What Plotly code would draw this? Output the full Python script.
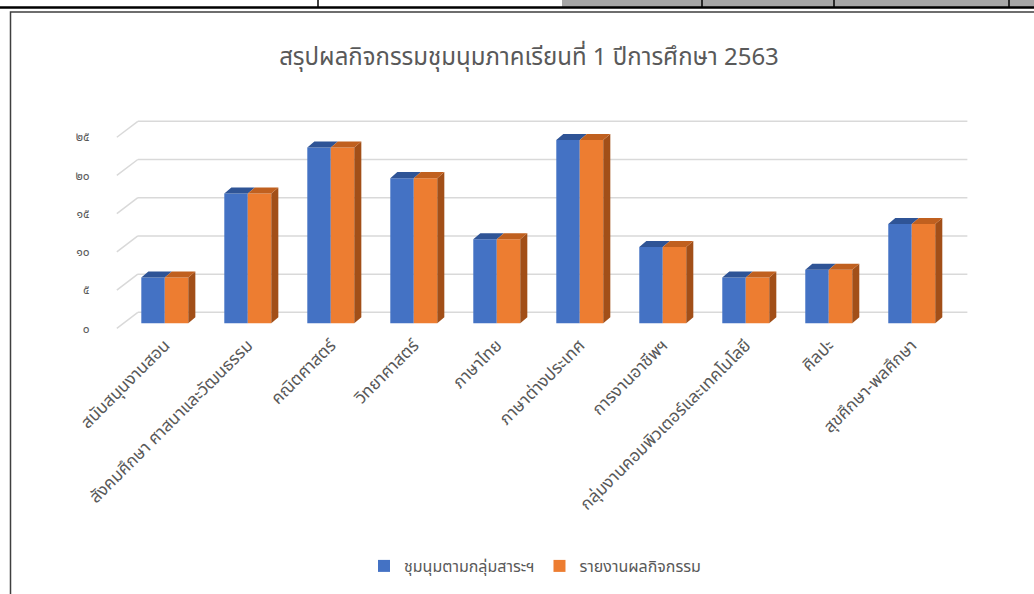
import plotly.graph_objects as go

# data
subjects = ["สนับสนุนงานสอน", "สังคมศึกษา ศาสนาและวัฒนธรรม", "คณิตศาสตร์", "วิทยาศาสตร์",
            "ภาษาไทย", "ภาษาต่างประเทศ", "การงานอาชีพฯ", "กลุ่มงานคอมพิวเตอร์และเทคโนโลยี",
            "ศิลปะ", "สุขศึกษา-พลศึกษา"]
clubs = [6, 17, 23, 19, 11, 24, 10, 6, 7, 13]
reports = [6, 17, 23, 19, 11, 24, 10, 6, 7, 13]
series_names = ["ชุมนุมตามกลุ่มสาระฯ", "รายงานผลกิจกรรม"]
tick_vals = [0, 5, 10, 15, 20, 25]
tick_text = ["๐", "๕", "๑๐", "๑๕", "๒๐", "๒๕"]

W, H = 1034, 594
# plot area in page pixels: x 115..974, y 117..331
L, R, T, B = 115, 60, 117, 263
PW, PH = W - L - R, H - T - B

FONT = "Tahoma, Leelawadee UI, Noto Sans Thai, sans-serif"
GRAY = "#595959"
BAR_W = 0.283
DX, DY = 0.085, 0.79          # bar depth (top / side faces)
BACK_DY, FRONT_DY = 1.44, 0.65  # back wall / front plane offsets
X_BACK0, X_FRONT0, X_END = -0.325, -0.578, 9.67

x = list(range(len(subjects)))
fig = go.Figure()


def top_faces(vals, off):
    px, py = [], []
    for i, v in zip(x, vals):
        x0, x1 = i + off, i + off + BAR_W
        px += [x0, x1, x1 + DX, x0 + DX, x0, None]
        py += [v, v, v + DY, v + DY, v, None]
    return px, py


def side_faces(vals, off):
    px, py = [], []
    for i, v in zip(x, vals):
        x1 = i + off + BAR_W
        px += [x1, x1 + DX, x1 + DX, x1, x1, None]
        py += [0, DY, v + DY, v, 0, None]
    return px, py


for vals, name, off, c_front, c_top, c_side in [
    (clubs, series_names[0], -BAR_W, "#4472C4", "#2F5496", None),
    (reports, series_names[1], 0.0, "#ED7D31", "#C0601F", "#A24F18"),
]:
    fig.add_trace(go.Bar(x=x, y=vals, name=name, width=BAR_W, offset=off,
                         marker=dict(color=c_front, line=dict(width=0))))
    if c_side:
        sx, sy = side_faces(vals, off)
        fig.add_trace(go.Scatter(x=sx, y=sy, mode="lines", fill="toself", fillcolor=c_side,
                                 line=dict(width=0, color=c_side), hoverinfo="skip", showlegend=False))
    tx, ty = top_faces(vals, off)
    fig.add_trace(go.Scatter(x=tx, y=ty, mode="lines", fill="toself", fillcolor=c_top,
                             line=dict(width=0, color=c_top), hoverinfo="skip", showlegend=False))


# page pixel -> paper coords
def xp(p):
    return (p - L) / PW


def yp(p):
    return (H - B - p) / PH


shapes = []
# back wall gridlines + left diagonals (below the bars)
for t in tick_vals:
    shapes.append(dict(type="line", xref="x", yref="y", x0=X_FRONT0, y0=t - FRONT_DY,
                       x1=X_BACK0, y1=t + BACK_DY, line=dict(color="#D9D9D9", width=1.5), layer="below"))
    shapes.append(dict(type="line", xref="x", yref="y", x0=X_BACK0, y0=t + BACK_DY,
                       x1=X_END, y1=t + BACK_DY, line=dict(color="#D9D9D9", width=1.5), layer="below"))

# sheet cells and chart frame around the chart
shapes += [
    dict(type="rect", xref="paper", yref="paper", x0=xp(562), x1=xp(1040), y0=yp(-2), y1=yp(7),
         fillcolor="#A6A6A6", line=dict(width=0), layer="below"),
    dict(type="line", xref="paper", yref="paper", x0=xp(0), x1=xp(1040), y0=yp(7.5), y1=yp(7.5),
         line=dict(color="black", width=2.5)),
]
for d in [318, 702, 834, 1009]:
    shapes.append(dict(type="line", xref="paper", yref="paper", x0=xp(d), x1=xp(d), y0=yp(-2), y1=yp(7),
                       line=dict(color="black", width=1.5)))
shapes.append(dict(type="rect", xref="paper", yref="paper", x0=xp(10.5), x1=xp(1045), y0=yp(12), y1=yp(600),
                   fillcolor="rgba(0,0,0,0)", line=dict(color="#3F3F3F", width=1.5)))

fig.update_layout(
    width=W, height=H,
    margin=dict(l=L, r=R, t=T, b=B, autoexpand=False),
    paper_bgcolor="white", plot_bgcolor="white",
    font=dict(family=FONT, color=GRAY),
    barmode="overlay",
    shapes=shapes,
    title=dict(text="สรุปผลกิจกรรมชุมนุมภาคเรียนที่ 1 ปีการศึกษา 2563", x=529 / W, xanchor="center",
               y=1 - 57 / H, yanchor="middle", font=dict(size=24, color=GRAY, family=FONT)),
    legend=dict(orientation="h", x=xp(535), xanchor="center", y=yp(566), yanchor="middle",
                font=dict(size=16, color=GRAY), traceorder="normal"),
    showlegend=True,
)
fig.update_xaxes(range=[-0.6, 9.75], tickvals=x, ticktext=subjects, tickangle=-45,
                 tickfont=dict(size=17, color=GRAY), showgrid=False, zeroline=False,
                 showline=False, ticks="", automargin=False)
fig.update_yaxes(range=[-1, 27], tickvals=[t - FRONT_DY for t in tick_vals], ticktext=tick_text,
                 tickfont=dict(size=12, color=GRAY), showgrid=False, zeroline=False, showline=False,
                 ticks="outside", ticklen=22, tickcolor="rgba(0,0,0,0)", automargin=False)

fig.write_html("out.html", config={"displayModeBar": False},
               post_script="document.body.style.margin='0';")
